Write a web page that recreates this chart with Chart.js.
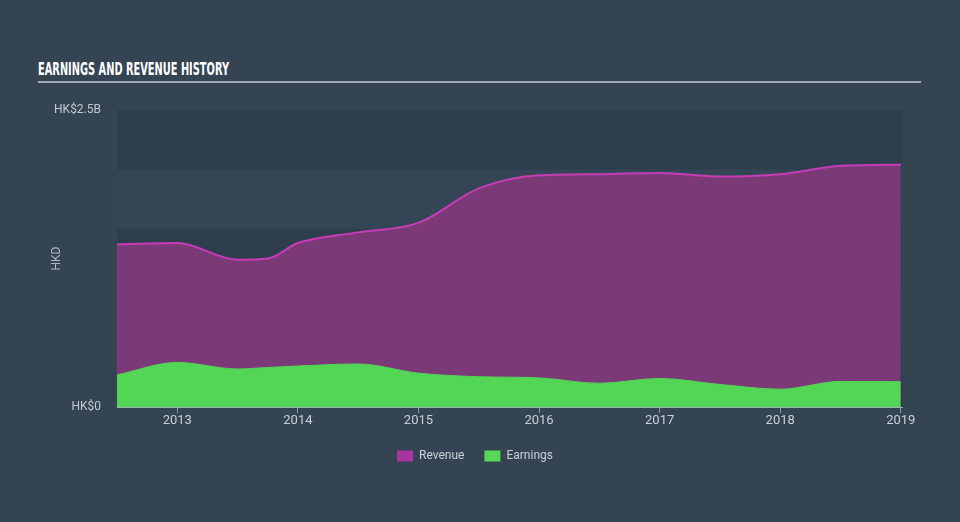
<!DOCTYPE html>
<html>
<head>
<meta charset="utf-8">
<title>Earnings and Revenue History</title>
<script src="https://cdn.jsdelivr.net/npm/chart.js@4.4.0/dist/chart.umd.min.js"></script>
<style>
    html, body { margin: 0; padding: 0; }
    body {
        width: 960px;
        height: 522px;
        position: relative;
        overflow: hidden;
        background: #344453;
        font-family: Roboto, "Open Sans", sans-serif;
    }
    #title {
        position: absolute;
        left: 38px;
        top: 58px;
        color: #ffffff;
        font: bold 18px "Liberation Sans Narrow", "DejaVu Sans Condensed", sans-serif;
        white-space: nowrap;
        transform-origin: left top;
    }
    #rule {
        position: absolute;
        left: 38px;
        top: 81px;
        width: 883px;
        height: 2px;
        background: #a1abb5;
    }
    #wrap {
        position: absolute;
        left: 0;
        top: 0;
        width: 960px;
        height: 522px;
    }
</style>
</head>
<body>
<div id="title">EARNINGS AND REVENUE HISTORY</div>
<div id="rule"></div>
<div id="wrap"><canvas id="chart"></canvas></div>

<script>
// Data (HK$ billions)
const periods  = [2012.5, 2013, 2013.5, 2013.75, 2014, 2014.5, 2015, 2015.5, 2016, 2016.5, 2017, 2017.5, 2018, 2018.5, 2019];
const revenue  = [1.37, 1.38, 1.24, 1.25, 1.38, 1.47, 1.55, 1.84, 1.95, 1.96, 1.97, 1.94, 1.96, 2.03, 2.04];
const earnings = [0.27, 0.375, 0.32, 0.333, 0.345, 0.362, 0.285, 0.255, 0.245, 0.20, 0.24, 0.19, 0.15, 0.215, 0.213];

// Axis ticks
const yearTicks  = [2013, 2014, 2015, 2016, 2017, 2018, 2019];
const valueTicks = [0, 2.5];
const bandEdges  = [0, 0.5, 1, 1.5, 2, 2.5];

// squeeze the title into the condensed width of the original
const titleEl = document.getElementById('title');
const titleWidth = titleEl.getBoundingClientRect().width;
titleEl.style.transform = `scaleX(${191 / titleWidth})`;

// Alternating horizontal bands behind the plot
const bandPlugin = {
    id: 'bands',
    beforeDraw(chart) {
        const { ctx, chartArea, scales } = chart;
        const y = scales.y;
        ctx.save();
        for (let i = 0; i < bandEdges.length - 1; i++) {
            const top = y.getPixelForValue(bandEdges[i + 1]);
            const bottom = y.getPixelForValue(bandEdges[i]);
            ctx.fillStyle = i % 2 === 0 ? '#2e3e4d' : '#344656';
            ctx.fillRect(chartArea.left, top, chartArea.width, bottom - top);
        }
        ctx.restore();
    }
};

const toPoints = (values) => values.map((v, i) => ({ x: periods[i], y: v }));

new Chart(document.getElementById('chart'), {
    type: 'line',
    data: {
        datasets: [
            {
                label: 'Earnings',
                data: toPoints(earnings),
                backgroundColor: '#53d655',
                borderColor: '#53d655',
                borderWidth: 1,
                fill: 'origin',
                pointRadius: 0,
                cubicInterpolationMode: 'monotone'
            },
            {
                label: 'Revenue',
                data: toPoints(revenue),
                backgroundColor: '#7b3a77',
                borderColor: '#c63cb6',
                borderWidth: 2,
                fill: 'origin',
                pointRadius: 0,
                cubicInterpolationMode: 'monotone'
            }
        ]
    },
    options: {
        responsive: true,
        maintainAspectRatio: false,
        animation: false,
        layout: {
            padding: { top: 110, right: 58, bottom: 50, left: 48 }
        },
        plugins: {
            tooltip: { enabled: false },
            legend: {
                position: 'bottom',
                labels: {
                    color: '#c9d0d6',
                    font: { family: 'Roboto', size: 12 },
                    boxWidth: 16,
                    boxHeight: 11,
                    padding: 20,
                    sort: (a, b) => b.datasetIndex - a.datasetIndex,
                    generateLabels(chart) {
                        const swatches = ['#54d856', '#a8359e'];
                        const items = Chart.defaults.plugins.legend.labels.generateLabels(chart);
                        items.forEach(item => {
                            item.fillStyle = swatches[item.datasetIndex];
                            item.strokeStyle = swatches[item.datasetIndex];
                            item.lineWidth = 0;
                        });
                        return items;
                    }
                }
            }
        },
        scales: {
            x: {
                type: 'linear',
                min: 2012.5,
                max: 2019.01,
                z: 1,
                afterBuildTicks(scale) {
                    scale.ticks = yearTicks.map(v => ({ value: v }));
                },
                afterFit(scale) {
                    scale.height = 23;
                },
                ticks: {
                    color: '#c9d0d6',
                    font: { family: 'Roboto', size: 13 },
                    padding: 0,
                    autoSkip: false,
                    maxRotation: 0,
                    callback: (v) => String(v)
                },
                grid: {
                    drawOnChartArea: false,
                    drawTicks: true,
                    tickLength: 6,
                    color: '#8c98a4'
                },
                border: { display: true, color: '#a3aeb9', width: 1 }
            },
            y: {
                min: 0,
                max: 2.5,
                afterBuildTicks(scale) {
                    scale.ticks = valueTicks.map(v => ({ value: v }));
                },
                afterFit(scale) {
                    scale.width = 69;
                },
                ticks: {
                    color: '#c2c9d0',
                    font: { family: 'Roboto', size: 12 },
                    padding: 16,
                    callback: (v) => v === 0 ? 'HK$0' : 'HK$' + v + 'B'
                },
                grid: { display: false, drawTicks: false },
                border: { display: false },
                title: {
                    display: true,
                    text: 'HKD',
                    color: '#aeb7c0',
                    font: { family: 'Roboto', size: 12 },
                    padding: { top: 2, bottom: 0 }
                }
            }
        }
    },
    plugins: [bandPlugin]
});
</script>
</body>
</html>
